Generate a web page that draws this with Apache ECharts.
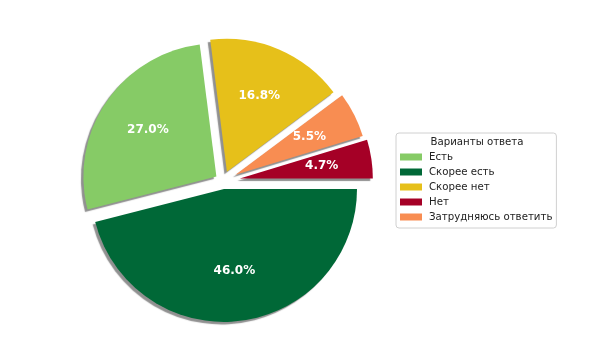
<!DOCTYPE html>
<html><head><meta charset="utf-8">
<script src="https://cdn.jsdelivr.net/npm/echarts@6/dist/echarts.min.js"></script>
<style>html,body{margin:0;padding:0;background:#fff}#c{width:600px;height:340px}</style>
</head><body><div id="c"></div>
<script>
// Data (pie order: counter-clockwise from 0°)
const categories = ['Нет', 'Затрудняюсь ответить', 'Скорее нет', 'Есть', 'Скорее есть'];
const values = [4.7, 5.5, 16.8, 27.0, 46.0];
const legendOrder = ['Есть', 'Скорее есть', 'Скорее нет', 'Нет', 'Затрудняюсь ответить'];
const legendTitle = 'Варианты ответа';

// Styles
const sliceColors = ['#a50026', '#f88d52', '#e6c01a', '#86cb66', '#006837'];
const explodePx = [17, 14, 10, 8, 8];
const CX = 223, CY = 181, R = 133;

const total = values.reduce((a, b) => a + b, 0);
const colorOf = {};
categories.forEach((c, i) => colorOf[c] = sliceColors[i]);

const series = [];
let cum = 0;
categories.forEach((cat, i) => {
  const mid = (cum + values[i] / 2) / total * 2 * Math.PI;
  cum += values[i];
  const cx = CX + explodePx[i] * Math.cos(mid);
  const cy = CY - explodePx[i] * Math.sin(mid);
  const mkData = (forLabel) => categories.map((c, j) => {
    const vis = j === i;
    return {
      name: c, value: values[j],
      itemStyle: vis && !forLabel ? {
        color: sliceColors[j],
        shadowColor: 'rgba(70,70,70,0.6)', shadowBlur: 1,
        shadowOffsetX: -2.5, shadowOffsetY: 2.5
      } : { color: 'rgba(0,0,0,0)' },
      label: { show: vis && forLabel }
    };
  });
  series.push({
    type: 'pie', silent: true, animation: false,
    center: [cx, cy], radius: [0, R],
    startAngle: 0, clockwise: false, minAngle: 0,
    avoidLabelOverlap: false, legendHoverLink: false,
    label: { show: false }, labelLine: { show: false },
    emphasis: { disabled: true },
    data: mkData(false), z: 2
  });
  series.push({
    type: 'pie', silent: true, animation: false,
    center: [cx, cy], radius: [R * 0.2, R],
    startAngle: 0, clockwise: false, minAngle: 0,
    avoidLabelOverlap: false, legendHoverLink: false,
    label: {
      position: 'inside', color: '#fff', fontWeight: 'bold',
      fontSize: 12, fontFamily: 'DejaVu Sans',
      formatter: p => p.value.toFixed(1) + '%'
    },
    labelLine: { show: false },
    emphasis: { disabled: true },
    data: mkData(true), z: 3
  });
});

const chart = echarts.init(document.getElementById('c'), null, { renderer: 'canvas' });
chart.setOption({
  backgroundColor: '#fff',
  animation: false,
  legend: {
    orient: 'vertical', left: 396, top: 133,
    padding: [19, 4, 6, 4],
    itemWidth: 22, itemHeight: 7, itemGap: 5,
    borderColor: '#d0d0d0', borderWidth: 1, borderRadius: 3,
    backgroundColor: '#fff',
    selectedMode: false,
    textStyle: { fontFamily: 'DejaVu Sans', fontSize: 10.2, color: '#222', padding: [0, 0, 0, 2] },
    data: legendOrder.map(n => ({
      name: n, icon: 'rect',
      itemStyle: { color: colorOf[n], borderWidth: 0, shadowBlur: 0, shadowColor: 'rgba(0,0,0,0)', shadowOffsetX: 0, shadowOffsetY: 0, opacity: 1 }
    }))
  },
  graphic: [{
    type: 'text', x: 477, y: 142, z: 100,
    style: { text: legendTitle, textAlign: 'center', textVerticalAlign: 'middle',
      font: '10.2px "DejaVu Sans"', fill: '#222' }
  }],
  series: series
});
</script></body></html>
